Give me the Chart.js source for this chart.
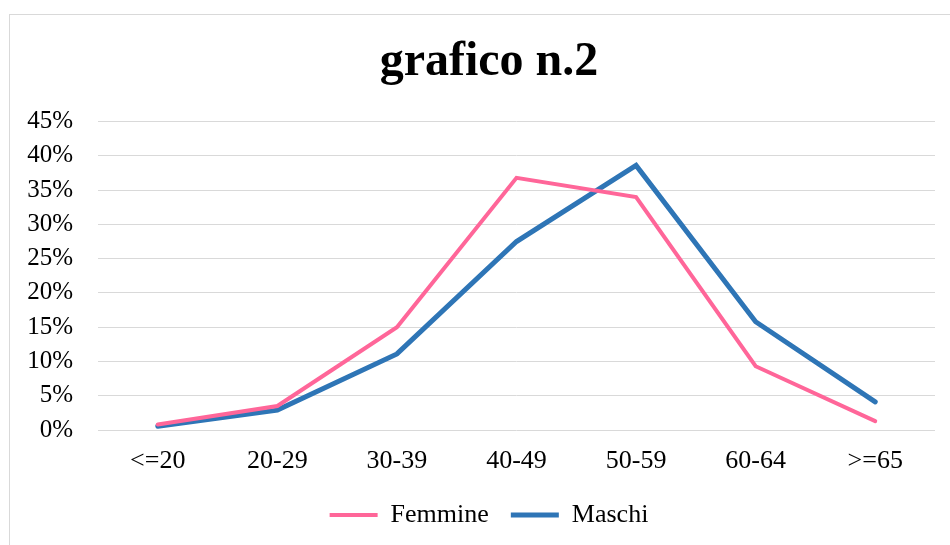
<!DOCTYPE html>
<html>
<head>
<meta charset="utf-8">
<script src="https://cdn.jsdelivr.net/npm/chart.js@4"></script>
<style>
  body { margin: 0; background: #fff; overflow: hidden; }
  .frame { position: absolute; left: 9px; top: 14px; width: 1000px; height: 600px; border: 1px solid #d9d9d9; }
  .wrap { position: absolute; left: 0; top: 0; width: 968px; height: 545px; }
</style>
</head>
<body>
<div class="frame"></div>
<div class="wrap"><canvas id="chart" width="968" height="545"></canvas></div>
<script>
// fasce d'età
const categories = ["<=20", "20-29", "30-39", "40-49", "50-59", "60-64", ">=65"];
const femmine = [0.008, 0.035, 0.150, 0.368, 0.340, 0.093, 0.013];
const maschi = [0.0055, 0.029, 0.111, 0.275, 0.386, 0.158, 0.041];

const serif = "'Liberation Serif', 'Times New Roman', serif";

new Chart(document.getElementById("chart").getContext("2d"), {
  type: "line",
  data: {
    labels: categories,
    datasets: [
      {
        label: "Femmine",
        data: femmine,
        borderColor: "#ff6699",
        backgroundColor: "#ff6699",
        borderWidth: 4,
        borderCapStyle: "round",
        pointRadius: 0,
        tension: 0
      },
      {
        label: "Maschi",
        data: maschi,
        borderColor: "#2e75b6",
        backgroundColor: "#2e75b6",
        borderWidth: 5,
        borderCapStyle: "round",
        pointRadius: 0,
        tension: 0
      }
    ]
  },
  options: {
    responsive: false,
    animation: false,
    layout: { padding: { top: 0, left: 10, right: 0, bottom: 7 } },
    plugins: {
      title: {
        display: true,
        text: "grafico n.2",
        color: "#000",
        font: { family: serif, size: 48, weight: "bold" },
        padding: { top: 34, bottom: 30 }
      },
      legend: {
        position: "bottom",
        labels: {
          color: "#000",
          font: { family: serif, size: 26 },
          usePointStyle: true,
          pointStyle: "line",
          pointStyleWidth: 48,
          padding: 22
        }
      },
      tooltip: { enabled: false }
    },
    scales: {
      x: {
        offset: true,
        grid: { display: false },
        border: { display: false },
        ticks: { color: "#000", font: { family: serif, size: 26 }, padding: 8, maxRotation: 0 },
        afterFit: (s) => { s.height = 50; }
      },
      y: {
        min: 0,
        max: 0.45,
        grid: { color: "#d9d9d9", lineWidth: 1, drawTicks: false },
        border: { display: false },
        ticks: {
          stepSize: 0.05,
          color: "#000",
          font: { family: serif, size: 25 },
          padding: 25,
          callback: (v) => Math.round(v * 100) + "%"
        },
        afterFit: (s) => { s.width = 88; }
      },
      // spazio vuoto a destra
      spacer: {
        position: "right",
        grid: { display: false },
        border: { display: false },
        ticks: { display: false },
        afterFit: (s) => { s.width = 33; }
      }
    }
  }
});
</script>
</body>
</html>
